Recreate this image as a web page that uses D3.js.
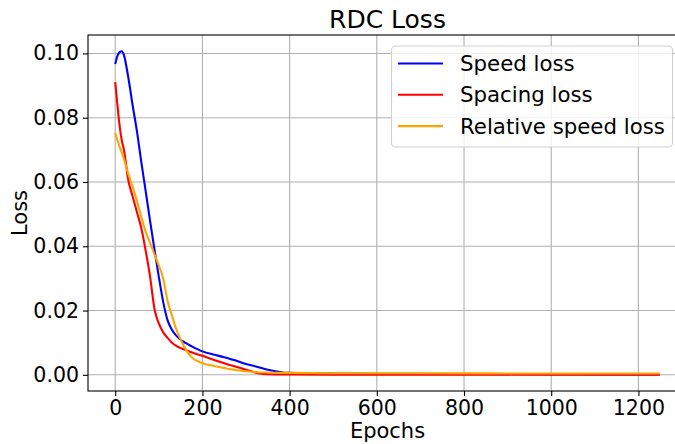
<!DOCTYPE html>
<html>
<head>
<meta charset="utf-8">
<script src="https://cdn.jsdelivr.net/npm/d3@7"></script>
<style>
  body { margin: 0; background: #fff; }
  svg { display: block; font-family: "DejaVu Sans", sans-serif; }
</style>
</head>
<body>
<script>
// values
var epochs = [0, 5, 10, 15, 20, 30, 40, 50, 60, 70, 80, 90, 100, 110, 120, 130, 140, 150, 160, 175,
              200, 225, 250, 275, 300, 325, 350, 400, 500, 700, 1000, 1249];
var speedLoss = [0.0967, 0.0992, 0.1004, 0.1007, 0.0995, 0.0925, 0.0838, 0.0756, 0.0660, 0.0570, 0.0478, 0.0390,
                 0.0305, 0.0227, 0.0170, 0.0140, 0.0122, 0.0109, 0.0100, 0.0089,
                 0.0073, 0.0063, 0.0055, 0.0045, 0.0034, 0.0025, 0.0016, 0.0006, 0.0004, 0.0003, 0.0002, 0.0001];
var spacingLoss = [0.0911, 0.0840, 0.0775, 0.0730, 0.0700, 0.0605, 0.0555, 0.0505, 0.0455, 0.0385, 0.0305, 0.0205,
                   0.0160, 0.0132, 0.0115, 0.0100, 0.0090, 0.0083, 0.0078, 0.0070,
                   0.0059, 0.0047, 0.0036, 0.0026, 0.0016, 0.0006, 0.0002, 0.0001, 0.00005, 0.00005, 0.00005, 0.00005];
var relSpeedLoss = [0.0752, 0.0730, 0.0710, 0.0692, 0.0672, 0.0625, 0.0585, 0.0540, 0.0490, 0.0445, 0.0410, 0.0375,
                    0.0340, 0.0300, 0.0230, 0.0185, 0.0142, 0.0110, 0.0083, 0.0055,
                    0.0036, 0.0028, 0.0021, 0.0015, 0.0011, 0.0008, 0.0007, 0.0006, 0.0005, 0.0005, 0.0004, 0.0004];
var seriesNames = ["Speed loss", "Spacing loss", "Relative speed loss"];
var seriesColors = ["blue", "red", "orange"];
var xTicks = [0, 200, 400, 600, 800, 1000, 1200];
var yTicks = [0.00, 0.02, 0.04, 0.06, 0.08, 0.10];

var W = 675, H = 444;
var axL = 88, axT = 35, axB = 391, axR = 687; // right spine falls just off the picture

var series = [speedLoss, spacingLoss, relSpeedLoss];

var svg = d3.select("body").append("svg")
    .attr("width", W)
    .attr("height", H)
    .style("overflow", "hidden");

// matplotlib style 5% margins
var xMax = d3.max(epochs), xPad = xMax * 0.05;
var yMax = d3.max(series, function (s) { return d3.max(s); });
var yMin = 0, yPad = (yMax - yMin) * 0.05;

var x = d3.scaleLinear().domain([-xPad, xMax + xPad]).range([axL, axR]);
var y = d3.scaleLinear().domain([yMin - yPad, yMax + yPad]).range([axB, axT]);

svg.append("clipPath").attr("id", "plotClip")
  .append("rect")
    .attr("x", axL).attr("y", axT)
    .attr("width", axR - axL).attr("height", axB - axT);

// grid
var grid = svg.append("g").attr("clip-path", "url(#plotClip)");
grid.selectAll("line.vx")
    .data(xTicks)
    .enter().append("line")
    .attr("class", "vx")
    .attr("x1", x).attr("x2", x)
    .attr("y1", axT).attr("y2", axB)
    .attr("stroke", "#b0b0b0")
    .attr("stroke-width", 1.1);
grid.selectAll("line.hy")
    .data(yTicks)
    .enter().append("line")
    .attr("class", "hy")
    .attr("x1", axL).attr("x2", axR)
    .attr("y1", y).attr("y2", y)
    .attr("stroke", "#b0b0b0")
    .attr("stroke-width", 1.1);

// curves
var line = d3.line()
    .x(function (d) { return x(d[0]); })
    .y(function (d) { return y(d[1]); })
    .curve(d3.curveMonotoneX);

var plot = svg.append("g").attr("clip-path", "url(#plotClip)");
series.forEach(function (s, i) {
    var pts = epochs.map(function (e, j) { return [e, s[j]]; });
    plot.append("path")
        .datum(pts)
        .attr("d", line)
        .attr("fill", "none")
        .attr("stroke", seriesColors[i])
        .attr("stroke-width", 2.1)
        .attr("stroke-linejoin", "round");
});

// axes
var xAxis = svg.append("g")
    .attr("transform", "translate(0," + axB + ")")
    .call(d3.axisBottom(x).tickValues(xTicks).tickFormat(d3.format("d"))
        .tickSizeInner(5).tickSizeOuter(0).tickPadding(4));
var yAxis = svg.append("g")
    .attr("transform", "translate(" + axL + ",0)")
    .call(d3.axisLeft(y).tickValues(yTicks).tickFormat(d3.format(".2f"))
        .tickSizeInner(5).tickSizeOuter(0).tickPadding(4));

[xAxis, yAxis].forEach(function (a) {
    a.select(".domain").remove();
    a.selectAll(".tick line").attr("stroke", "#000").attr("stroke-width", 1.1);
    a.selectAll(".tick text")
        .attr("fill", "#000")
        .style("font-family", "DejaVu Sans")
        .style("font-size", "20.5px");
});

// frame
svg.append("rect")
    .attr("x", axL).attr("y", axT)
    .attr("width", axR - axL).attr("height", axB - axT)
    .attr("fill", "none")
    .attr("stroke", "#000")
    .attr("stroke-width", 1.1);

// titles
svg.append("text")
    .attr("x", (axL + axR) / 2)
    .attr("y", 28)
    .attr("text-anchor", "middle")
    .style("font-size", "25px")
    .text("RDC Loss");

svg.append("text")
    .attr("x", (axL + axR) / 2)
    .attr("y", 437.5)
    .attr("text-anchor", "middle")
    .style("font-size", "21px")
    .text("Epochs");

svg.append("text")
    .attr("transform", "translate(27," + ((axT + axB) / 2) + ") rotate(-90)")
    .attr("text-anchor", "middle")
    .style("font-size", "21px")
    .text("Loss");

// legend
var lg = svg.append("g");
lg.append("rect")
    .attr("x", 391.5).attr("y", 46)
    .attr("width", 281).attr("height", 101)
    .attr("rx", 4)
    .attr("fill", "#fff")
    .attr("fill-opacity", 0.8)
    .attr("stroke", "#d0d0d0")
    .attr("stroke-width", 1.1);

var items = lg.selectAll("g.item")
    .data(seriesNames)
    .enter().append("g")
    .attr("class", "item")
    .attr("transform", function (d, i) { return "translate(0," + (63.5 + i * 31.3) + ")"; });
items.append("line")
    .attr("x1", 398).attr("x2", 443)
    .attr("y1", 0).attr("y2", 0)
    .attr("stroke", function (d, i) { return seriesColors[i]; })
    .attr("stroke-width", 2.1);
items.append("text")
    .attr("x", 460)
    .attr("y", 7.6)
    .style("font-size", "21.3px")
    .text(function (d) { return d; });
</script>
</body>
</html>
